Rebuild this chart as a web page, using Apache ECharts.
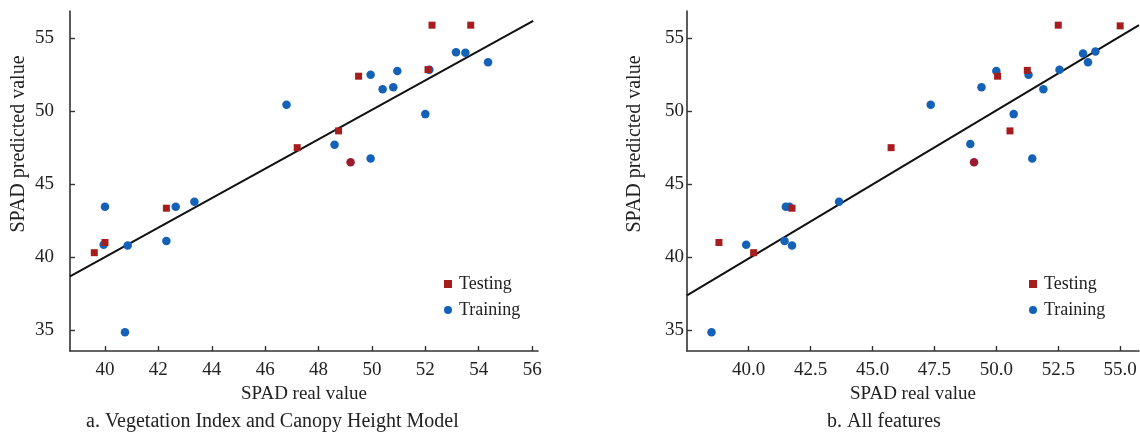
<!DOCTYPE html>
<html>
<head>
<meta charset="utf-8">
<script src="https://cdn.jsdelivr.net/npm/echarts@6/dist/echarts.min.js"></script>
<style>
html,body{margin:0;padding:0;background:#fff;}
#chart{width:1140px;height:432px;}
</style>
</head>
<body>
<div id="chart"></div>
<script>
// ---- data ----
const panelTitles = ['a. Vegetation Index and Canopy Height Model', 'b. All features'];
const xAxisName = 'SPAD real value';
const yAxisName = 'SPAD predicted value';
const seriesNames = ['Testing', 'Training'];

const yTicks = [35, 40, 45, 50, 55];
const xTicksA = [40, 42, 44, 46, 48, 50, 52, 54, 56];
const xTicksB = [40, 42.5, 45, 47.5, 50, 52.5, 55];

const testingA = [[39.6,40.3],[40.0,41.0],[42.3,43.35],[47.2,47.5],[48.75,48.65],[49.2,46.5],[49.5,52.4],[52.1,52.85],[52.25,55.9],[53.7,55.9]];
const trainingA = [[40.0,43.45],[39.95,40.85],[40.85,40.8],[40.75,34.85],[42.3,41.1],[42.65,43.45],[43.35,43.8],[46.8,50.45],[48.6,47.7],[49.95,46.75],[49.95,52.5],[50.4,51.5],[50.8,51.65],[50.95,52.75],[52.0,49.8],[52.15,52.85],[53.15,54.05],[53.5,54.0],[54.35,53.35]];
const fitA = [[38.69,38.67],[56.04,56.2]];

const testingB = [[38.8,41.0],[40.2,40.3],[41.75,43.35],[45.75,47.5],[49.1,46.5],[50.05,52.4],[50.55,48.65],[51.25,52.8],[52.5,55.9],[55.0,55.85]];
const trainingB = [[38.5,34.85],[39.9,40.85],[41.45,41.1],[41.75,40.8],[41.5,43.45],[41.65,43.45],[43.65,43.8],[47.35,50.45],[48.95,47.75],[49.4,51.65],[50.0,52.75],[50.7,49.8],[51.3,52.5],[51.45,46.75],[51.9,51.5],[52.55,52.85],[53.5,53.95],[53.7,53.35],[54.0,54.1]];
const fitB = [[37.51,37.37],[55.76,55.9]];

// ---- chart ----
const FONT = '"Liberation Serif", "DejaVu Serif", serif';
const TXT = '#222';
const RED = '#a51d1d';
const BLUE = '#1462b8';
const MIXED = '#9a1c2e'; // testing point drawn over a training point (appears as dark red disc)

const chart = echarts.init(document.getElementById('chart'));

function xAxis(idx, min, max, ticks, fmt) {
  return {
    type: 'value', gridIndex: idx, min: min, max: max,
    name: xAxisName, nameLocation: 'middle', nameGap: 34,
    nameTextStyle: {fontFamily: FONT, fontSize: 19, color: TXT},
    splitLine: {show: false},
    axisLine: {show: true, onZero: false, lineStyle: {color: '#333', width: 1.6}},
    axisTick: {show: true, inside: true, length: 5, customValues: ticks, lineStyle: {color: '#333', width: 1.4}},
    axisLabel: {customValues: ticks, margin: 10, fontFamily: FONT, fontSize: 19, color: TXT, formatter: fmt}
  };
}
function yAxis(idx, min, max, margin) {
  return {
    type: 'value', gridIndex: idx, min: min, max: max,
    splitLine: {show: false},
    axisLine: {show: true, onZero: false, lineStyle: {color: '#333', width: 1.6}},
    axisTick: {show: true, inside: true, length: 5, customValues: yTicks, lineStyle: {color: '#333', width: 1.4}},
    axisLabel: {customValues: yTicks, margin: margin, fontFamily: FONT, fontSize: 19, color: TXT}
  };
}
function legend(left) {
  return {
    show: true, orient: 'vertical', left: left, top: 270,
    data: [{name: seriesNames[0], icon: 'rect'}, {name: seriesNames[1], icon: 'circle'}],
    itemWidth: 8, itemHeight: 8, itemGap: 8,
    textStyle: {fontFamily: FONT, fontSize: 18, color: TXT, padding: [0,0,0,2]},
    selectedMode: false
  };
}
function yName(x) {
  return {type: 'text', x: x, y: 144, rotation: Math.PI / 2,
    style: {text: yAxisName, fontFamily: FONT, fontSize: 20, fill: TXT, align: 'center', verticalAlign: 'middle'}};
}
function testingData(arr, overlapIdx) {
  return arr.map((p, i) => i === overlapIdx
    ? {value: p, symbol: 'circle', symbolSize: 8.5, itemStyle: {color: MIXED}}
    : p);
}

const option = {
  animation: false,
  backgroundColor: '#fff',
  grid: [
    {left: 70, top: 11, width: 468, height: 340},
    {left: 687, top: 11, width: 452, height: 340}
  ],
  xAxis: [
    xAxis(0, 38.69, 56.22, xTicksA, v => String(v)),
    xAxis(1, 37.51, 55.76, xTicksB, v => Number(v).toFixed(1))
  ],
  yAxis: [ yAxis(0, 33.56, 56.87, 16), yAxis(1, 33.56, 56.87, 3) ],
  legend: [ legend(439), legend(1024) ],
  series: [
    {type: 'line', xAxisIndex: 0, yAxisIndex: 0, data: fitA, symbol: 'none', lineStyle: {color: '#111', width: 2}, silent: true, z: 1},
    {type: 'line', xAxisIndex: 1, yAxisIndex: 1, data: fitB, symbol: 'none', lineStyle: {color: '#111', width: 2}, silent: true, z: 1},
    {name: seriesNames[1], type: 'scatter', xAxisIndex: 0, yAxisIndex: 0, data: trainingA, symbol: 'circle', symbolSize: 8.5, itemStyle: {color: BLUE, opacity: 1}, z: 2},
    {name: seriesNames[0], type: 'scatter', xAxisIndex: 0, yAxisIndex: 0, data: testingData(testingA, 5), symbol: 'rect', symbolSize: 7, itemStyle: {color: RED, opacity: 1}, z: 3},
    {name: seriesNames[1], type: 'scatter', xAxisIndex: 1, yAxisIndex: 1, data: trainingB, symbol: 'circle', symbolSize: 8.5, itemStyle: {color: BLUE, opacity: 1}, z: 2},
    {name: seriesNames[0], type: 'scatter', xAxisIndex: 1, yAxisIndex: 1, data: testingData(testingB, 4), symbol: 'rect', symbolSize: 7, itemStyle: {color: RED, opacity: 1}, z: 3}
  ],
  graphic: [
    yName(19),
    yName(635),
    {type: 'text', left: 86, top: 412, style: {text: panelTitles[0], fontFamily: FONT, fontSize: 20, fill: TXT}},
    {type: 'text', left: 827, top: 412, style: {text: panelTitles[1], fontFamily: FONT, fontSize: 20, fill: TXT}}
  ]
};
chart.setOption(option);
</script>
</body>
</html>
